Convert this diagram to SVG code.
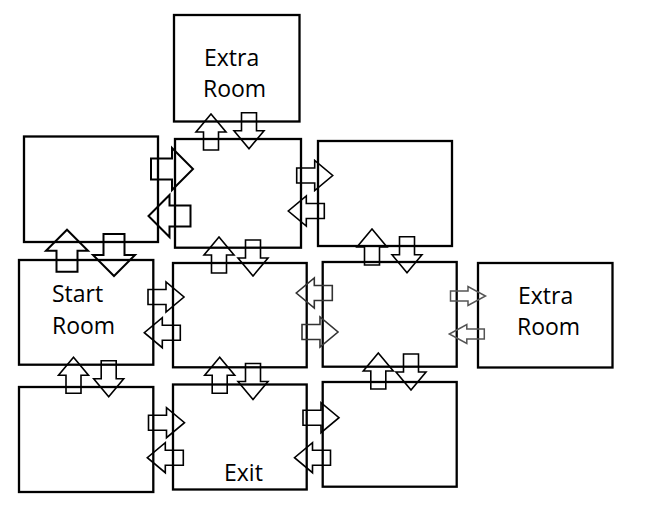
<svg xmlns="http://www.w3.org/2000/svg" xmlns:xlink="http://www.w3.org/1999/xlink" width="650" height="505" viewBox="0 0 650 505">
<style>
.room{fill:none;stroke:#000;stroke-width:2.3}
.lbl{font-family:"Open Sans","Liberation Sans",sans-serif;font-size:23px;fill:#000}
.a{fill:none;stroke:#000;stroke-width:1.6;stroke-linejoin:miter}
.ab{fill:none;stroke:#000;stroke-width:2;stroke-linejoin:miter}
.ad{fill:none;stroke:#333;stroke-width:1.6;stroke-linejoin:miter}
.ag{fill:none;stroke:#555;stroke-width:1.5;stroke-linejoin:miter}
</style>
<defs>
<path id="med" d="M0,-7.5 H18 V-15 L36,0 L18,15 V7.5 H0 Z"/>
<path id="big" d="M0,-10.5 H21 V-21 L42,0 L21,21 V10.5 H0 Z"/>
<path id="sml" d="M0,-5 H17.5 V-9.5 L35,0 L17.5,9.5 V5 H0 Z"/>
</defs>
<rect width="650" height="505" fill="#fff"/>
<g id="room-top-extra"><rect class="room" x="174" y="15" width="125.5" height="106.5"/><text class="lbl" x="204" y="66">Extra</text><text class="lbl" x="203" y="97">Room</text></g>
<g id="room-left-top"><rect class="room" x="24" y="136.5" width="134" height="105.5"/></g>
<g id="room-center-top"><rect class="room" x="175" y="139" width="126" height="108.7"/></g>
<g id="room-right-top"><rect class="room" x="318" y="141" width="134" height="105"/></g>
<g id="room-start"><rect class="room" x="19" y="260" width="134.3" height="104.7"/><text class="lbl" x="52" y="302">Start</text><text class="lbl" x="52" y="334">Room</text></g>
<g id="room-middle-center"><rect class="room" x="173" y="263" width="133.7" height="104.3"/></g>
<g id="room-middle-right"><rect class="room" x="322.7" y="262" width="134" height="104.7"/></g>
<g id="room-right-extra"><rect class="room" x="478" y="263" width="134.5" height="104.5"/><text class="lbl" x="518" y="304">Extra</text><text class="lbl" x="517" y="335">Room</text></g>
<g id="room-bottom-left"><rect class="room" x="19" y="387" width="134.3" height="105"/></g>
<g id="room-exit"><rect class="room" x="173" y="384.5" width="133.7" height="105"/><text class="lbl" x="224" y="481">Exit</text></g>
<g id="room-bottom-right"><rect class="room" x="322.7" y="382" width="134" height="104.7"/></g>
<g id="connectors">
<use href="#med" class="a" transform="translate(211,150) rotate(-90)"/>
<use href="#med" class="a" transform="translate(249,112.7) rotate(90)"/>
<use href="#big" class="ab" transform="translate(67,271.7) rotate(-90)"/>
<use href="#big" class="ab" transform="translate(114,234) rotate(90)"/>
<use href="#big" class="ab" transform="translate(151,169)"/>
<use href="#big" class="ab" transform="translate(190.5,216) rotate(180)"/>
<use href="#med" class="a" transform="translate(296.7,175.5)"/>
<use href="#med" class="a" transform="translate(324.3,211) rotate(180)"/>
<use href="#med" class="a" transform="translate(219,273) rotate(-90)"/>
<use href="#med" class="a" transform="translate(253,240) rotate(90)"/>
<use href="#med" class="a" transform="translate(372,265) rotate(-90)"/>
<use href="#med" class="a" transform="translate(407,236.7) rotate(90)"/>
<use href="#med" class="a" transform="translate(148,297)"/>
<use href="#med" class="a" transform="translate(180.3,332.7) rotate(180)"/>
<use href="#med" class="ad" transform="translate(332.3,293) rotate(180)"/>
<use href="#med" class="ad" transform="translate(302,332)"/>
<use href="#sml" class="ag" transform="translate(450.5,296)"/>
<use href="#sml" class="ag" transform="translate(484.3,334) rotate(180)"/>
<use href="#med" class="a" transform="translate(73.5,393.3) rotate(-90)"/>
<use href="#med" class="a" transform="translate(108.7,360.7) rotate(90)"/>
<use href="#med" class="a" transform="translate(219.7,393.3) rotate(-90)"/>
<use href="#med" class="a" transform="translate(253,363.5) rotate(90)"/>
<use href="#med" class="a" transform="translate(378.3,389) rotate(-90)"/>
<use href="#med" class="a" transform="translate(411,354) rotate(90)"/>
<use href="#med" class="a" transform="translate(148.5,422.7)"/>
<use href="#med" class="a" transform="translate(183.3,457.7) rotate(180)"/>
<use href="#med" class="a" transform="translate(303,417.7)"/>
<use href="#med" class="a" transform="translate(330.5,457.7) rotate(180)"/>
</g>
</svg>
